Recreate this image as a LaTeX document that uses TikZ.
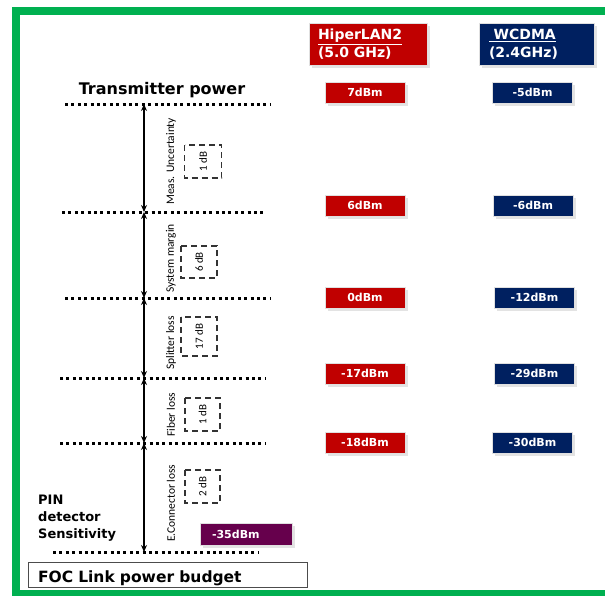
\documentclass[tikz,border=0pt]{standalone}
\usepackage{fontspec}
\setmainfont{DejaVu Sans}
\newfontfamily\calib{Carlito}
\usepackage{tikz}
\usetikzlibrary{arrows.meta,shadows}
\definecolor{hiperred}{RGB}{192,0,0}
\definecolor{wcdmablue}{RGB}{0,32,96}
\definecolor{pinpurple}{RGB}{102,0,76}
\definecolor{framegreen}{RGB}{0,176,80}
\tikzset{
  level/.style={line width=3pt, dash pattern=on 3pt off 3.4pt, black},
  budget/.style={line width=2.3pt, {Stealth[length=7pt,width=6pt]}-{Stealth[length=7pt,width=6pt]}},
  loss/.style={rotate=90, anchor=west, inner sep=0pt, font=\calib\fontsize{11.5}{12}\selectfont},
  dbbox/.style={draw=black!80, line width=1.3pt, dash pattern=on 6pt off 4pt, rotate=90, inner sep=0pt, font=\calib\fontsize{11}{12}\selectfont},
  shade/.style={draw=white!88!black, line width=1pt, drop shadow={shadow xshift=2.5pt, shadow yshift=-2.5pt, fill=black!22}},
  head/.style={shade, minimum height=42pt, inner ysep=0pt, align=left, text=white, font=\bfseries\fontsize{14}{18}\selectfont},
  val/.style={shade, minimum width=80pt, minimum height=21pt, inner sep=0pt, text=white, font=\bfseries\fontsize{11}{12}\selectfont}
}
\begin{document}
\begin{tikzpicture}[x=1pt,y=-1pt]
                \useasboundingbox (0,0) rectangle (605,595);
                \def\ax{144}
                %Level line ends
                \coordinate (s1) at (65,104);  \coordinate (e1) at (270,104);
                \coordinate (s2) at (62,212);  \coordinate (e2) at (265,212);
                \coordinate (s3) at (65,298);  \coordinate (e3) at (270,298);
                \coordinate (s4) at (60,378);  \coordinate (e4) at (265,378);
                \coordinate (s5) at (60,443);  \coordinate (e5) at (265,443);
                \coordinate (s6) at (53,552);  \coordinate (e6) at (258,552);
                %Arrow points
                \coordinate (a1) at (\ax,104);
                \coordinate (a2) at (\ax,212);
                \coordinate (a3) at (\ax,298);
                \coordinate (a4) at (\ax,378);
                \coordinate (a5) at (\ax,443);
                \coordinate (a6) at (\ax,552);
                %Frame
                \draw[framegreen, line width=8pt] (605,11) -- (16,11) -- (16,594) -- (605,594);
                %Levels
                \draw[level] (s1) -- (e1);
                \draw[level] (s2) -- (e2);
                \draw[level] (s3) -- (e3);
                \draw[level] (s4) -- (e4);
                \draw[level] (s5) -- (e5);
                \draw[level] (s6) -- (e6);
                %Budget arrows
                \draw[budget] (a1) -- (a2);
                \draw[budget] (a2) -- (a3);
                \draw[budget] (a3) -- (a4);
                \draw[budget] (a4) -- (a5);
                \draw[budget] (a5) -- (a6);
                %Losses
                \node[loss] (t1) at (171,205) {Meas. Uncertainty};
                \node[loss] (t2) at (171,293) {System margin};
                \node[loss] (t3) at (171,370) {Splitter loss};
                \node[loss] (t4) at (171,437) {Fiber loss};
                \node[loss] (t5) at (171,542) {E.Connector loss};
                \node[dbbox, minimum width=33pt, minimum height=37pt] (b1) at (203,161.5) {1 dB};
                \node[dbbox, minimum width=32pt, minimum height=36pt] (b2) at (199,262) {6 dB};
                \node[dbbox, minimum width=39pt, minimum height=36pt] (b3) at (199,336.5) {17 dB};
                \node[dbbox, minimum width=33pt, minimum height=35pt] (b4) at (202.5,414.5) {1 dB};
                \node[dbbox, minimum width=33pt, minimum height=35pt] (b5) at (202.5,486.5) {2 dB};
                %Texts
                \node[anchor=base, inner sep=0pt, font=\bfseries\fontsize{16}{18}\selectfont] (tx) at (162,94) {Transmitter power};
                \node[anchor=west, align=left, inner sep=0pt, font=\bfseries\fontsize{13}{17}\selectfont] (pin) at (38,518) {PIN\\detector\\Sensitivity};
                \node[draw=black!70, line width=0.8pt, fill=white, minimum width=279pt, minimum height=25pt, text width=259pt, inner xsep=10pt, inner ysep=0pt, align=left, text height=16pt, text depth=1pt, font=\bfseries\fontsize{15.5}{18}\selectfont] (foc) at (167.5,574.5) {FOC Link power budget};
                %Headers
                \node[head, fill=hiperred, text width=100pt, inner xsep=9pt] (hiper) at (368,44) {\underline{HiperLAN2}\\(5.0 GHz)};
                \node[head, fill=wcdmablue, text width=95pt, inner xsep=10pt] (wcdma) at (536.5,44) {\underline{\ WCDMA}\\(2.4GHz)};
                %Values
                \node[val, fill=hiperred] (h1) at (365,92.5) {7dBm};
                \node[val, fill=hiperred] (h2) at (365,205.5) {6dBm};
                \node[val, fill=hiperred] (h3) at (365,297.5) {0dBm};
                \node[val, fill=hiperred] (h4) at (365,373.5) {-17dBm};
                \node[val, fill=hiperred] (h5) at (365,442.5) {-18dBm};
                \node[val, fill=wcdmablue] (w1) at (532.5,92.5) {-5dBm};
                \node[val, fill=wcdmablue] (w2) at (533,205.5) {-6dBm};
                \node[val, fill=wcdmablue] (w3) at (534.5,297.5) {-12dBm};
                \node[val, fill=wcdmablue] (w4) at (534.5,373.5) {-29dBm};
                \node[val, fill=wcdmablue] (w5) at (532.5,442.5) {-30dBm};
                \node[val, fill=pinpurple, minimum width=92pt, minimum height=22pt, text width=68pt, inner xsep=12pt, align=left] (sens) at (246,534) {-35dBm};
            \end{tikzpicture}
\end{document}
